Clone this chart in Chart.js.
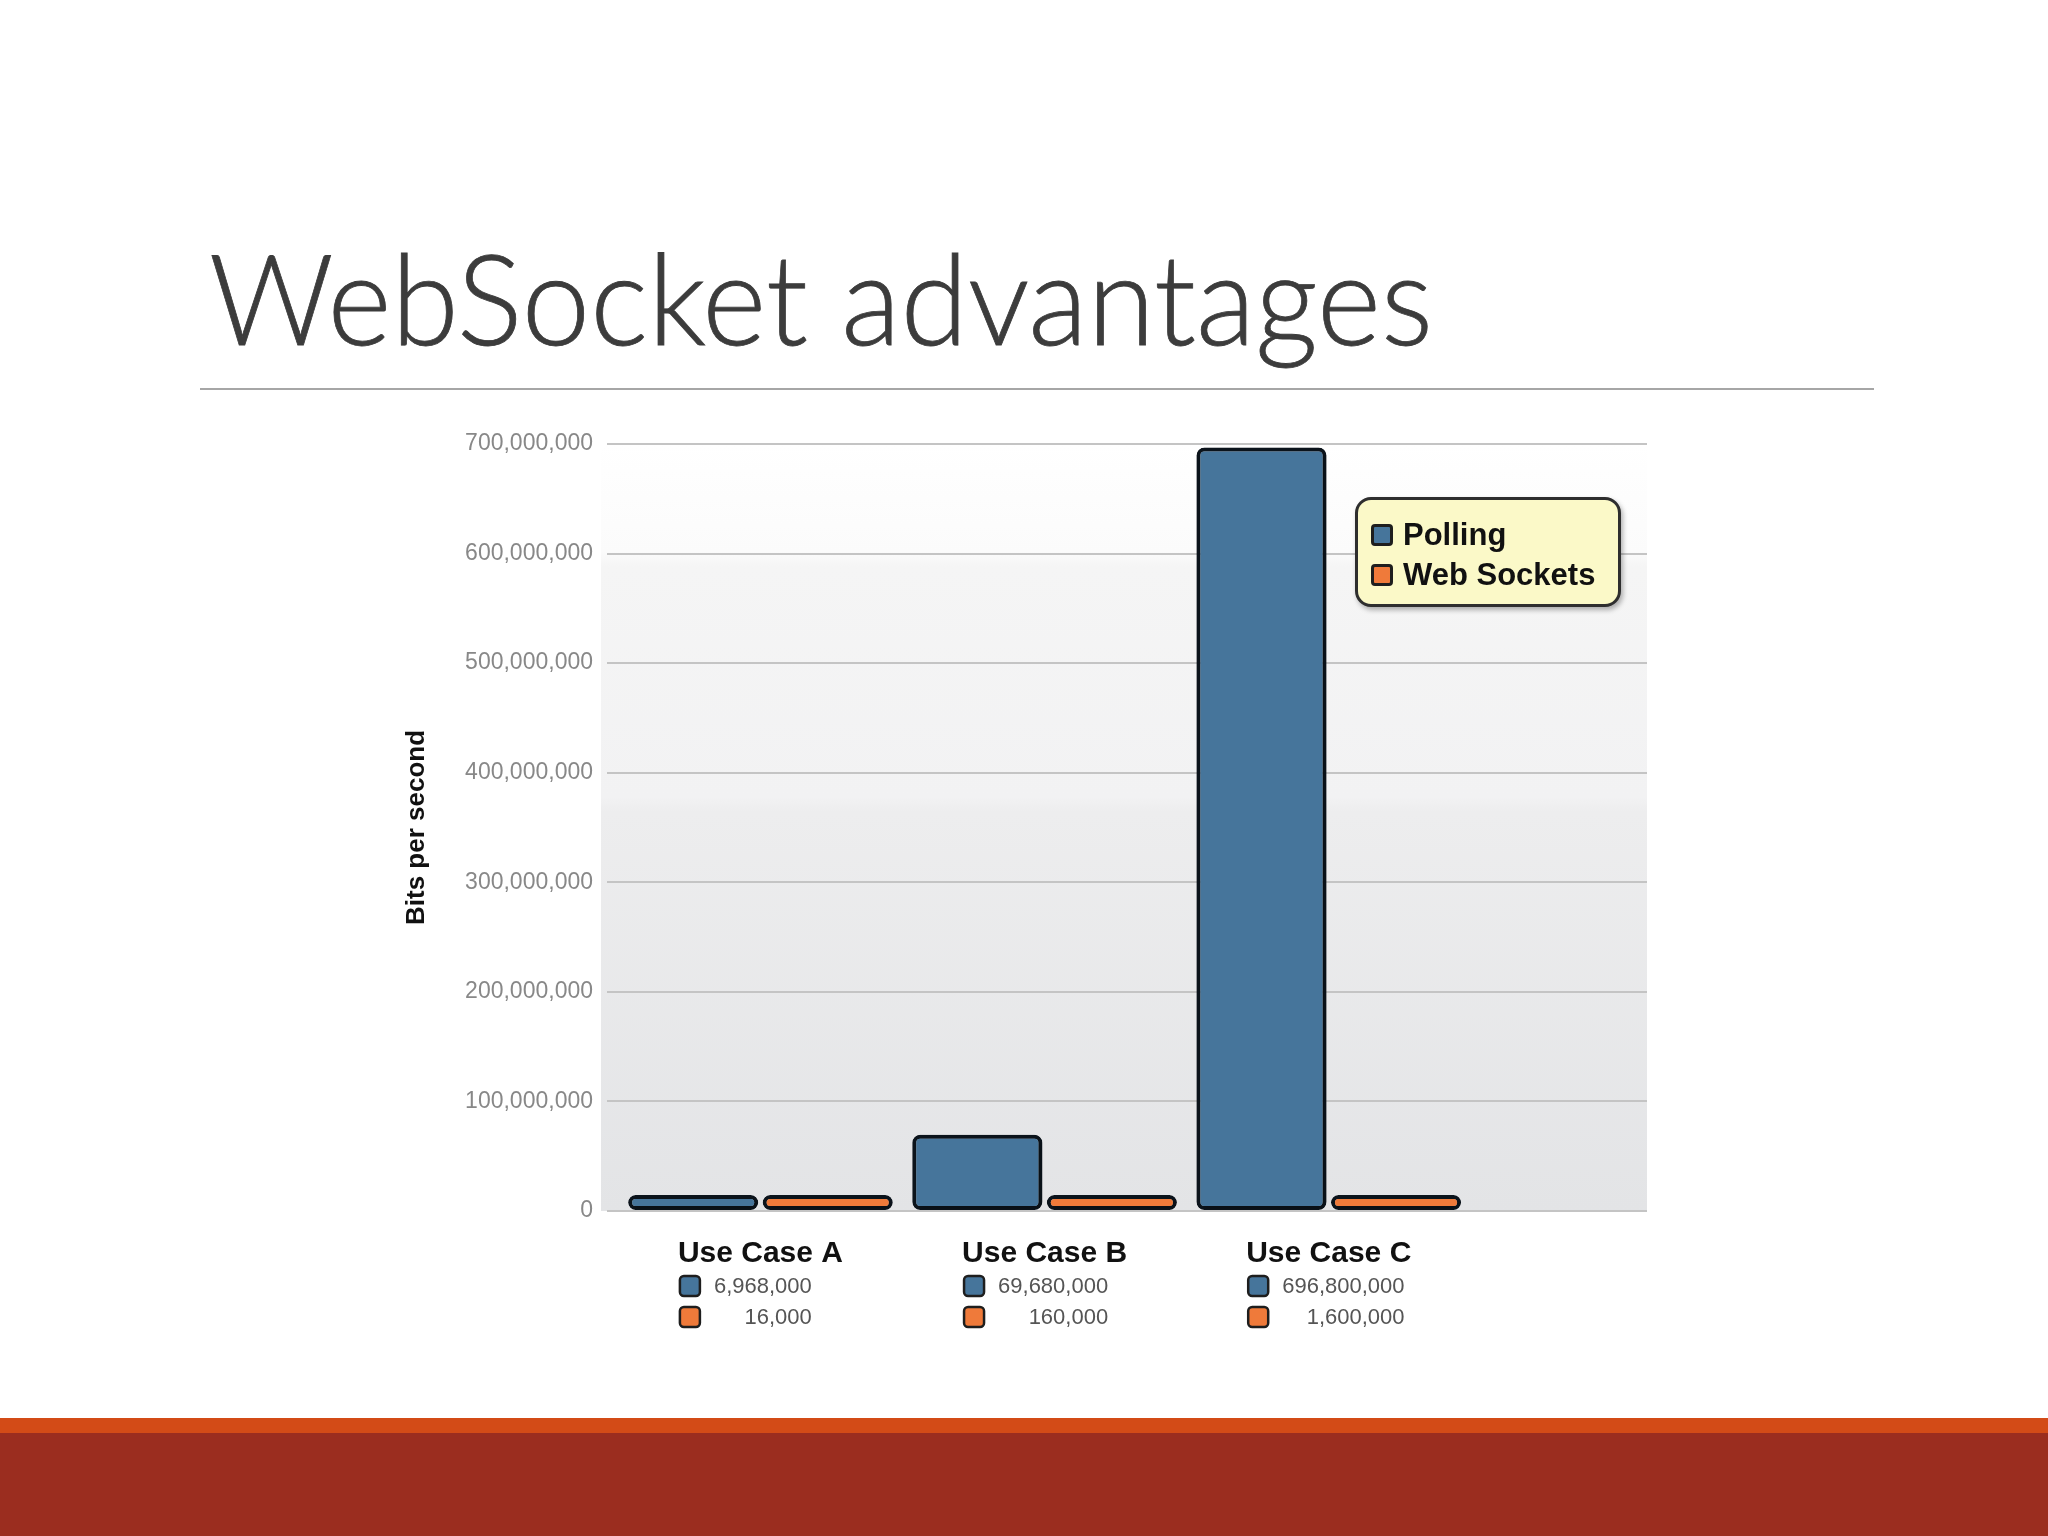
<!DOCTYPE html>
<html lang="en">
<head>
<meta charset="UTF-8" />
<title>WebSocket advantages</title>
<script src="https://cdn.jsdelivr.net/npm/chart.js"></script>
<style>
  body { margin: 0; width: 2048px; height: 1536px; position: relative; background: #fff; overflow: hidden; font-family: "Liberation Sans", Arial, sans-serif; }
  #title { position: absolute; left: 209px; top: 233px; font-family: Lato, "Open Sans", sans-serif; font-weight: 300; font-size: 127px; line-height: 127px; color: #3c3c3c; white-space: nowrap; transform-origin: 0 0; -webkit-text-stroke: 0.8px #3c3c3c; }
  #rule { position: absolute; left: 200px; top: 388px; width: 1674px; height: 2px; background: #a6a6a6; }
  #band1 { position: absolute; left: 0; top: 1418px; width: 2048px; height: 15px; background: #d34b17; }
  #band2 { position: absolute; left: 0; top: 1433px; width: 2048px; height: 103px; background: #9b2d1f; }
  #chart { position: absolute; left: 0; top: 0; }
  #legend { position: absolute; left: 1355px; top: 497px; width: 266px; height: 110px; box-sizing: border-box; border: 3px solid #2e2e2e; border-radius: 16px; background: #fbf9c8; box-shadow: 2px 3px 5px rgba(0,0,0,0.3); padding: 15px 0 0 13px; }
  .row { display: flex; align-items: center; height: 40px; font: bold 31px "Liberation Sans", Arial, sans-serif; color: #111; }
  .sw { width: 22px; height: 22px; box-sizing: border-box; border: 3px solid #1e1e1e; border-radius: 4px; margin-right: 10px; }
</style>
</head>
<body>
  <div id="title">WebSocket advantages</div>
  <div id="rule"></div>
  <canvas id="chart" width="2048" height="1536"></canvas>
  <div id="legend"></div>
  <div id="band1"></div>
  <div id="band2"></div>

  <script>
    var categories = ["Use Case A", "Use Case B", "Use Case C"];
    var seriesNames = ["Polling", "Web Sockets"];
    var pollingValues = [6968000, 69680000, 696800000];
    var webSocketValues = [16000, 160000, 1600000];
    var seriesColors = ["#46759b", "#ef7a3a"];
    var yMax = 700000000;
    var yStep = 100000000;

    // squeeze title to its width in the slide
    var title = document.getElementById("title");
    var tw = title.getBoundingClientRect().width;
    title.style.transform = "scaleX(" + (1224 / tw) + ")";

    // legend box
    var legend = document.getElementById("legend");
    seriesNames.forEach(function (name, i) {
      var row = document.createElement("div");
      row.className = "row";
      var sw = document.createElement("span");
      sw.className = "sw";
      sw.style.background = seriesColors[i];
      row.appendChild(sw);
      row.appendChild(document.createTextNode(name));
      legend.appendChild(row);
    });

    var plotBackground = {
      id: "plotBackground",
      beforeDraw: function (chart) {
        var ctx = chart.ctx, a = chart.chartArea;
        var g = ctx.createLinearGradient(0, a.top, 0, a.bottom);
        g.addColorStop(0, "#ffffff");
        g.addColorStop(0.14, "#fbfbfb");
        g.addColorStop(0.16, "#f5f5f5");
        g.addColorStop(0.46, "#f2f2f3");
        g.addColorStop(0.48, "#ededee");
        g.addColorStop(1, "#e3e4e6");
        ctx.save();
        ctx.fillStyle = g;
        ctx.fillRect(a.left - 6, a.top, a.right - a.left + 6, a.bottom - a.top);
        ctx.restore();
      }
    };

    // soft drop shadow under the bars
    var barShadow = {
      id: "barShadow",
      beforeDatasetsDraw: function (chart) {
        var ctx = chart.ctx;
        ctx.save();
        ctx.shadowColor = "rgba(0,0,0,0.3)";
        ctx.shadowBlur = 5;
        ctx.shadowOffsetX = 2;
        ctx.shadowOffsetY = 2;
      },
      afterDatasetsDraw: function (chart) {
        chart.ctx.restore();
      }
    };

    // category names with the value table under each group
    var caseTable = {
      id: "caseTable",
      afterDraw: function (chart) {
        var ctx = chart.ctx;
        var xs = chart.scales.x;
        var bottom = chart.chartArea.bottom;
        categories.forEach(function (name, i) {
          var cx = xs.getPixelForValue(i);
          ctx.save();
          ctx.font = 'bold 30px "Liberation Sans"';
          ctx.fillStyle = "#111";
          ctx.textAlign = "center";
          ctx.textBaseline = "middle";
          ctx.fillText(name, cx, bottom + 43);
          var left = cx - ctx.measureText(name).width / 2;
          ctx.font = '22px "Liberation Sans"';
          var texts = chart.data.datasets.map(function (ds) {
            return ds.data[i].y.toLocaleString("en-US");
          });
          var w = Math.max.apply(null, texts.map(function (t) { return ctx.measureText(t).width; }));
          chart.data.datasets.forEach(function (ds, j) {
            var cy = bottom + 75 + j * 31;
            ctx.beginPath();
            ctx.roundRect(left + 2, cy - 10, 20, 20, 4);
            ctx.fillStyle = ds.backgroundColor;
            ctx.fill();
            ctx.lineWidth = 2.5;
            ctx.strokeStyle = "#1e1e1e";
            ctx.stroke();
            ctx.fillStyle = "#555";
            ctx.textAlign = "right";
            ctx.fillText(texts[j], left + 36 + w, cy + 1);
          });
          ctx.restore();
        });
      }
    };

    var ctx = document.getElementById("chart").getContext("2d");
    var chart = new Chart(ctx, {
      type: "bar",
      data: {
        datasets: [
          {
            label: seriesNames[0],
            data: categories.map(function (c, i) { return { x: i, y: pollingValues[i] }; }),
            backgroundColor: seriesColors[0],
          },
          {
            label: seriesNames[1],
            data: categories.map(function (c, i) { return { x: i, y: webSocketValues[i] }; }),
            backgroundColor: seriesColors[1],
          },
        ],
      },
      options: {
        responsive: false,
        animation: false,
        devicePixelRatio: 1,
        layout: { padding: { left: 387, right: 401, top: 444, bottom: 325 } },
        datasets: {
          bar: {
            borderColor: "#0c141c",
            borderWidth: 4,
            borderRadius: 8,
            borderSkipped: false,
            minBarLength: 16,
            categoryPercentage: 0.947,
            barPercentage: 0.967,
          },
        },
        plugins: { legend: { display: false }, tooltip: { enabled: false } },
        scales: {
          x: {
            type: "linear",
            min: -0.54,
            max: 3.12,
            offset: false,
            display: false,
            ticks: { stepSize: 1, includeBounds: false },
            grid: { display: false },
          },
          y: {
            min: 0,
            max: yMax,
            afterFit: function (scale) { scale.width = 220; },
            border: { display: false },
            grid: { color: "#c4c4c4", lineWidth: 2, drawTicks: false },
            ticks: {
              stepSize: yStep,
              padding: 14,
              color: "#888888",
              font: { family: "Liberation Sans", size: 23 },
              callback: function (v) { return v.toLocaleString("en-US"); },
            },
            title: {
              display: true,
              text: "Bits per second",
              color: "#111",
              font: { family: "Liberation Sans", size: 26, weight: "bold" },
              padding: { top: 14, bottom: 0 },
            },
          },
        },
      },
      plugins: [plotBackground, barShadow, caseTable],
    });
  </script>
</body>
</html>
